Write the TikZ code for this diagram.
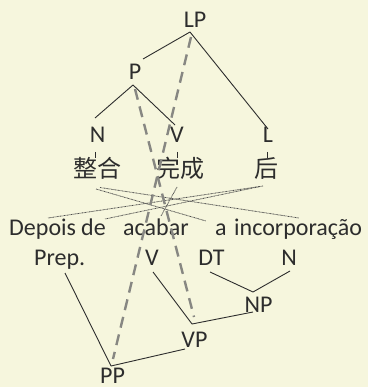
\documentclass[tikz,border=0pt]{standalone}
\usepackage{fontspec}
\setmainfont{Carlito}
\newfontfamily\cjk{Noto Sans CJK SC}
\definecolor{bg}{RGB}{246,246,221}
\definecolor{ink}{RGB}{45,45,45}
\definecolor{dashgray}{RGB}{135,135,130}
\begin{document}
\begin{tikzpicture}[x=1pt,y=-1pt,
  lbl/.style={inner sep=0pt, anchor=base, font=\fontsize{24}{24}\selectfont, text=ink},
  word/.style={inner sep=0pt, anchor=base west, font=\fontsize{24}{24}\selectfont, text=ink},
  zh/.style={inner sep=0pt, anchor=center, font=\cjk\fontsize{24}{24}\selectfont, text=ink},
  branch/.style={draw=ink, line width=0.9pt},
  tickline/.style={draw=ink, line width=0.7pt},
  link/.style={draw=dashgray, line width=2.4pt, dash pattern=on 11pt off 7pt},
  align/.style={draw=ink!85, line width=0.8pt, dash pattern=on 0.8pt off 0.6pt}]
\useasboundingbox (0,0) rectangle (368,387);
\fill[bg] (0,0) rectangle (368,387);

% upper (Chinese) tree
\node[lbl] (LP) at (195,28) {LP};
\node[lbl] (P) at (135,80) {P};
\node[lbl] (N) at (97.5,143) {N};
\node[lbl] (V) at (177,143) {V};
\node[lbl] (L) at (268,143) {L};
\node[zh] (zhA) at (97,168.5) {整合};
\node[zh] (zhB) at (180,168.5) {完成};
\node[zh] (zhC) at (266,168.5) {后};

% Portuguese sentence
\node[word] (w1) at (9,235) {Depois};
\node[word] (w2) at (81,235) {de};
\node[word] (w3) at (123,235) {acabar};
\node[word] (w4) at (215,235) {a};
\node[word] (w5) at (234,235) {incorporação};

% lower (Portuguese) tree
\node[word] (Prep) at (34,265) {Prep.};
\node[lbl] (V2) at (152,265) {V};
\node[lbl] (DT) at (211.5,265) {DT};
\node[lbl] (N2) at (289,265) {N};
\node[lbl] (NP) at (258.5,312) {NP};
\node[lbl] (VP) at (194.5,347) {VP};
\node[lbl] (PP) at (112.5,383) {PP};

% attachment points
\coordinate (LPb) at (190,32);
\coordinate (LPd) at (191,37);
\coordinate (Pt) at (143,59);
\coordinate (Pb) at (133,85);
\coordinate (Pd) at (135,89);
\coordinate (Nt) at (95,118);
\coordinate (Vt) at (175,125);
\coordinate (Lt) at (268,129);
\coordinate (Nk1) at (95,152); \coordinate (Nk2) at (95,158);
\coordinate (Vk1) at (177,152); \coordinate (Vk2) at (177,158);
\coordinate (Lk1) at (267,152); \coordinate (Lk2) at (267,158);

\coordinate (PrepB) at (65,273);
\coordinate (PPt) at (111,366);
\coordinate (PPd) at (113,359);
\coordinate (V2b) at (153,272);
\coordinate (VPt) at (192,324);
\coordinate (VPd) at (194,317);
\coordinate (VPr) at (185,349);
\coordinate (DTb) at (210,272);
\coordinate (N2b) at (290,271);
\coordinate (NPt) at (253,292);
\coordinate (NPb) at (253,312);

\coordinate (zA1) at (96,189);
\coordinate (zA2) at (100,187.5);
\coordinate (zB) at (177,187);
\coordinate (zC1) at (263,186);
\coordinate (zC2) at (260,186.5);
\coordinate (pw1) at (48,218);
\coordinate (pw2) at (105,219);
\coordinate (pw3) at (161,216);
\coordinate (pw4) at (206,221);
\coordinate (pw5) at (299,218);

% upper branches
\draw[branch] (LPb) -- (Pt);
\draw[branch] (LPb) -- (Lt);
\draw[branch] (Pb) -- (Nt);
\draw[branch] (Pb) -- (Vt);
\draw[tickline] (Nk1) -- (Nk2);
\draw[tickline] (Vk1) -- (Vk2);
\draw[tickline] (Lk1) -- (Lk2);

% lower branches
\draw[branch] (PrepB) -- (PPt);
\draw[branch] (VPr) -- (PPt);
\draw[branch] (V2b) -- (VPt);
\draw[branch] (NPb) -- (VPt);
\draw[branch] (DTb) -- (NPt);
\draw[branch] (N2b) -- (NPt);

% word alignments
\draw[align] (zA1) -- (pw4);
\draw[align] (zA2) -- (pw5);
\draw[align] (zC1) -- (pw1);
\draw[align] (zC2) -- (pw2);
\draw[align] (zB) -- (pw3);

% phrase links
\draw[link] (LPd) -- (PPd);
\draw[link] (Pd) -- (VPd);
\end{tikzpicture}
\end{document}
